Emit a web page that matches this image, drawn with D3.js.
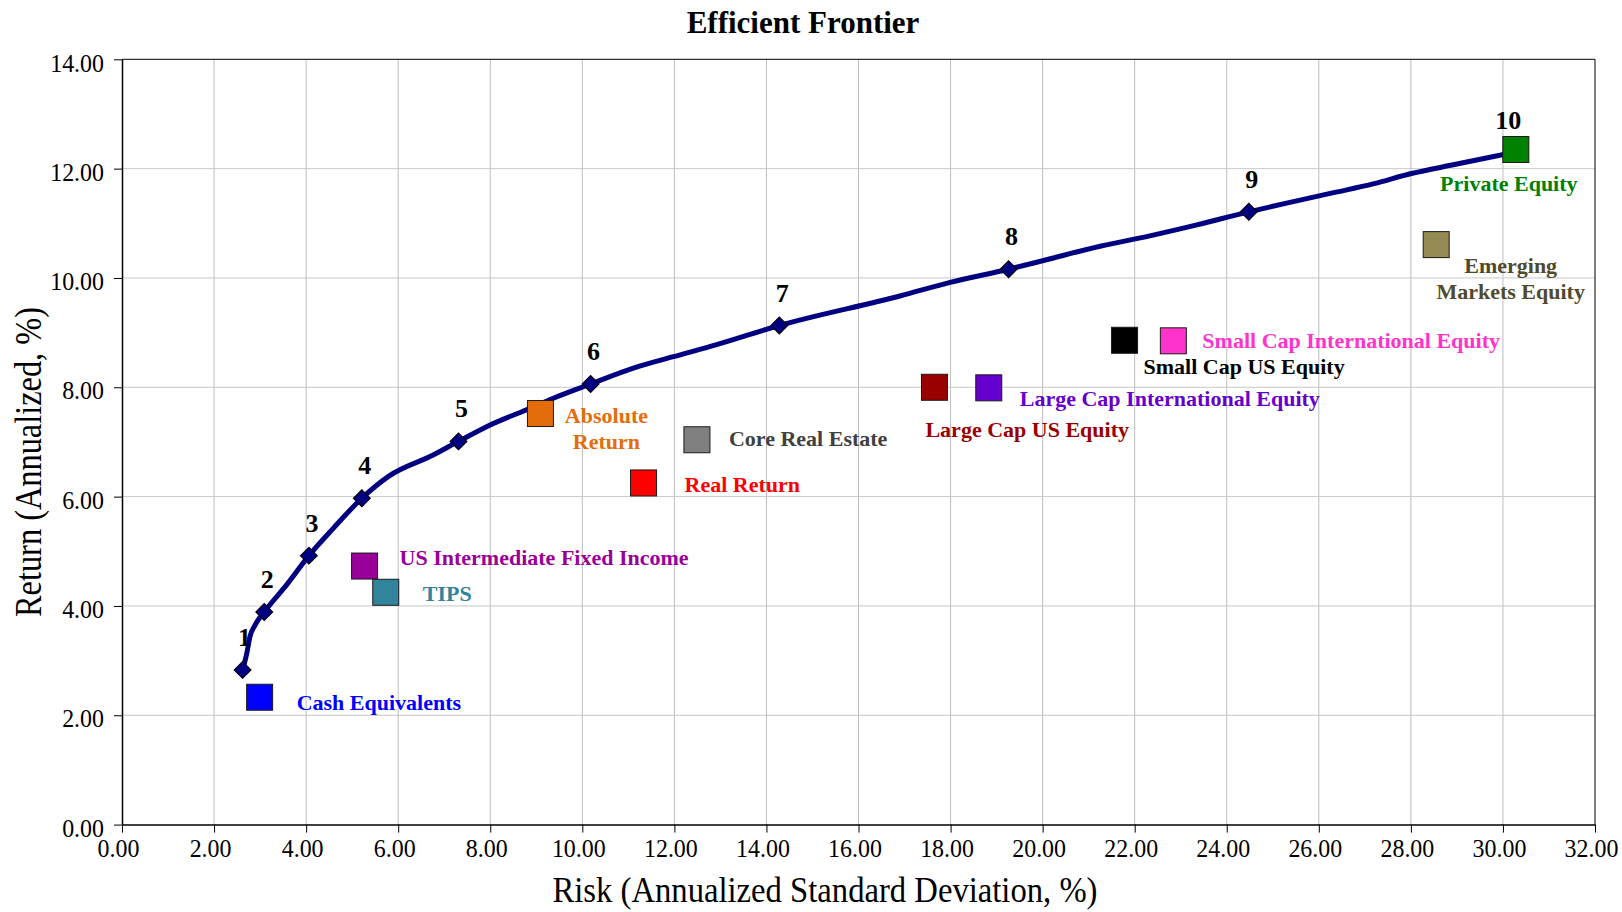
<!DOCTYPE html>
<html>
<head>
<meta charset="utf-8">
<script src="https://cdn.jsdelivr.net/npm/d3@7"></script>
<style>
  html, body { margin: 0; padding: 0; background: #fff; }
  svg { display: block; }
  text { font-family: "Liberation Serif", "Times New Roman", serif; }
</style>
</head>
<body>
<svg id="chart" width="1622" height="912"></svg>
<script>
// ---------------- DATA ----------------
const chartTitle = "Efficient Frontier";
const xAxisTitle = "Risk (Annualized Standard Deviation, %)";
const yAxisTitle = "Return (Annualized, %)";

const xTickValues = [0, 2, 4, 6, 8, 10, 12, 14, 16, 18, 20, 22, 24, 26, 28, 30, 32];
const yTickValues = [0, 2, 4, 6, 8, 10, 12, 14];

// Efficient frontier curve (risk, return)
const frontierRisk   = [2.62, 2.71, 2.78, 2.89, 3.09, 3.58, 4.06, 4.59, 5.21, 5.79, 6.76, 7.31, 7.92, 8.79, 9.37, 10.18, 11.11, 11.98, 12.92, 14.28, 16.90, 17.99, 19.26, 20.02, 21.25, 22.33, 23.35, 24.48, 25.30, 26.32, 27.18, 28.01, 28.92, 30.20];
const frontierReturn = [2.83, 3.13, 3.44, 3.65, 3.89, 4.39, 4.92, 5.42, 5.97, 6.37, 6.76, 7.01, 7.28, 7.59, 7.80, 8.06, 8.35, 8.56, 8.78, 9.13, 9.67, 9.92, 10.16, 10.32, 10.58, 10.77, 10.97, 11.21, 11.37, 11.56, 11.72, 11.91, 12.07, 12.29];

// Numbered frontier portfolios
const portfolioLabels = ["1", "2", "3", "4", "5", "6", "7", "8", "9", "10"];
const portfolioRisk   = [2.62, 3.09, 4.06, 5.21, 7.31, 10.18, 14.28, 19.26, 24.48, 30.20];
const portfolioReturn = [2.83, 3.89, 4.92, 5.97, 7.01, 8.06, 9.13, 10.16, 11.21, 12.29];

// Asset classes
const assetNames = [
  "Cash Equivalents", "US Intermediate Fixed Income", "TIPS", "Absolute Return",
  "Core Real Estate", "Real Return", "Large Cap US Equity", "Large Cap International Equity",
  "Small Cap US Equity", "Small Cap International Equity", "Emerging Markets Equity", "Private Equity"
];
const assetRisk   = [2.99, 5.27, 5.73, 9.09, 12.49, 11.33, 17.65, 18.83, 21.78, 22.84, 28.55, 30.28];
const assetReturn = [2.33, 4.73, 4.25, 7.52, 7.04, 6.25, 8.00, 7.99, 8.86, 8.85, 10.61, 12.35];

// ---------------- STYLE / LAYOUT ----------------
const squareColors = ["#0000FF", "#990099", "#31849B", "#E46C0A", "#808080", "#FF0000",
                      "#990000", "#6600CC", "#000000", "#FF33CC", "#948A54", "#008000"];
const labelColors  = ["#0000FF", "#990099", "#31849B", "#E46C0A", "#404040", "#FF0000",
                      "#990000", "#6600CC", "#000000", "#FF33CC", "#4F4A2D", "#008000"];
const labelLayout = [
  {anchor: "start",  dx: 37,  dy: 13,  lines: ["Cash Equivalents"]},
  {anchor: "start",  dx: 35,  dy: -1,  lines: ["US Intermediate Fixed Income"]},
  {anchor: "start",  dx: 37,  dy: 9,   lines: ["TIPS"]},
  {anchor: "middle", dx: 66,  dy: 9,   lines: ["Absolute", "Return"]},
  {anchor: "start",  dx: 32,  dy: 6,   lines: ["Core Real Estate"]},
  {anchor: "start",  dx: 41,  dy: 9.5, lines: ["Real Return"]},
  {anchor: "start",  dx: -9,  dy: 50,  lines: ["Large Cap US Equity"]},
  {anchor: "start",  dx: 31,  dy: 18,  lines: ["Large Cap International Equity"]},
  {anchor: "start",  dx: 19,  dy: 34,  lines: ["Small Cap US Equity"]},
  {anchor: "start",  dx: 29,  dy: 7,   lines: ["Small Cap International Equity"]},
  {anchor: "middle", dx: 74.5,dy: 28,  lines: ["Emerging", "Markets Equity"]},
  {anchor: "middle", dx: -7,  dy: 42,  lines: ["Private Equity"]}
];
const portfolioLabelDx = [2, 3, 3, 3, 3, 3, 3, 3, 3, -4];

const svg = d3.select("#chart");
const plot = {left: 122, right: 1595, top: 59.3, bottom: 824.6};

const x = d3.scaleLinear().domain([0, 32]).range([plot.left, plot.right]);
const y = d3.scaleLinear().domain([0, 14]).range([plot.bottom, plot.top]);

function condense(sel, f) {
  sel.each(function () {
    const L = this.getComputedTextLength();
    d3.select(this).attr("textLength", L * f).attr("lengthAdjust", "spacingAndGlyphs");
  });
}

// Gridlines
const grid = svg.append("g").attr("class", "grid");
grid.selectAll("line.vx").data(xTickValues.filter(v => v > 0 && v < 32)).join("line")
  .attr("x1", d => x(d)).attr("x2", d => x(d))
  .attr("y1", plot.top).attr("y2", plot.bottom)
  .attr("stroke", "#bdbdbd").attr("stroke-width", 1);
grid.selectAll("line.hy").data(yTickValues.filter(v => v > 0 && v < 14)).join("line")
  .attr("x1", plot.left).attr("x2", plot.right)
  .attr("y1", d => y(d)).attr("y2", d => y(d))
  .attr("stroke", "#c8c8c8").attr("stroke-width", 1);

// Frame (top & right)
svg.append("line").attr("x1", plot.left).attr("x2", plot.right).attr("y1", plot.top).attr("y2", plot.top)
  .attr("stroke", "#000").attr("stroke-width", 1);
svg.append("line").attr("x1", plot.right).attr("x2", plot.right).attr("y1", plot.top).attr("y2", plot.bottom)
  .attr("stroke", "#000").attr("stroke-width", 1);

// Axes
const fmt = d3.format(".2f");
const xAxis = svg.append("g").attr("transform", `translate(0,${plot.bottom})`)
  .call(d3.axisBottom(x).tickValues(xTickValues).tickFormat(fmt).tickSize(8).tickPadding(5.5).tickSizeOuter(0));
const yAxis = svg.append("g").attr("transform", `translate(${plot.left},0)`)
  .call(d3.axisLeft(y).tickValues(yTickValues).tickFormat(fmt).tickSize(8).tickPadding(10).tickSizeOuter(0));
[xAxis, yAxis].forEach(a => {
  a.select(".domain").attr("stroke", "#000").attr("stroke-width", 1.5);
  a.selectAll(".tick line").attr("stroke", "#000").attr("stroke-width", 1);
  a.selectAll(".tick text").attr("font-family", "Liberation Serif").attr("font-size", 26).attr("fill", "#000");
});
yAxis.selectAll(".tick text").attr("dy", "0.45em");
xAxis.selectAll(".tick text").attr("dx", -4);
condense(xAxis.selectAll(".tick text"), 0.92);
condense(yAxis.selectAll(".tick text"), 0.92);

// Frontier line
const frontier = frontierRisk.map((r, i) => [r, frontierReturn[i]]);
svg.append("path").datum(frontier)
  .attr("d", d3.line().x(d => x(d[0])).y(d => y(d[1])).curve(d3.curveMonotoneX))
  .attr("fill", "none").attr("stroke", "#000080").attr("stroke-width", 5)
  .attr("stroke-linejoin", "round").attr("stroke-linecap", "round");

// Portfolio diamonds
const portfolios = portfolioLabels.map((l, i) => ({label: l, r: portfolioRisk[i], ret: portfolioReturn[i], i}));
svg.append("g").selectAll("path").data(portfolios).join("path")
  .attr("transform", d => `translate(${x(d.r)},${y(d.ret)}) rotate(45)`)
  .attr("d", "M-6,-6H6V6H-6Z")
  .attr("fill", "#000080").attr("stroke", "#000").attr("stroke-width", 1);
svg.append("g").selectAll("text").data(portfolios).join("text")
  .attr("x", d => x(d.r) + portfolioLabelDx[d.i]).attr("y", d => y(d.ret) - 24)
  .attr("text-anchor", "middle").attr("font-size", 26).attr("font-weight", "bold").attr("fill", "#000")
  .text(d => d.label);

// Asset squares
const assets = assetNames.map((n, i) => ({name: n, r: assetRisk[i], ret: assetReturn[i], i}));
const sq = 26;
svg.append("g").selectAll("rect").data(assets).join("rect")
  .attr("x", d => x(d.r) - sq / 2).attr("y", d => y(d.ret) - sq / 2)
  .attr("width", sq).attr("height", sq)
  .attr("fill", d => squareColors[d.i]).attr("stroke", "#1a1a1a").attr("stroke-width", 1);

// Asset labels
const labG = svg.append("g");
assets.forEach(d => {
  const L = labelLayout[d.i];
  const t = labG.append("text")
    .attr("text-anchor", L.anchor)
    .attr("font-size", 22).attr("font-weight", "bold")
    .attr("fill", labelColors[d.i]);
  L.lines.forEach((line, k) => {
    t.append("tspan").attr("x", x(d.r) + L.dx).attr("y", y(d.ret) + L.dy + k * 26.5).text(line);
  });
});

// Title & axis titles
svg.append("text").attr("x", 803).attr("y", 33).attr("text-anchor", "middle")
  .attr("font-size", 31).attr("font-weight", "bold").attr("fill", "#000").text(chartTitle);
svg.append("text").attr("x", 825).attr("y", 902).attr("text-anchor", "middle")
  .attr("font-size", 36).attr("fill", "#000")
  .attr("textLength", 545).attr("lengthAdjust", "spacingAndGlyphs").text(xAxisTitle);
svg.append("text").attr("transform", "translate(41,462) rotate(-90)").attr("text-anchor", "middle")
  .attr("font-size", 38).attr("fill", "#000")
  .attr("textLength", 310).attr("lengthAdjust", "spacingAndGlyphs").text(yAxisTitle);
</script>
</body>
</html>
